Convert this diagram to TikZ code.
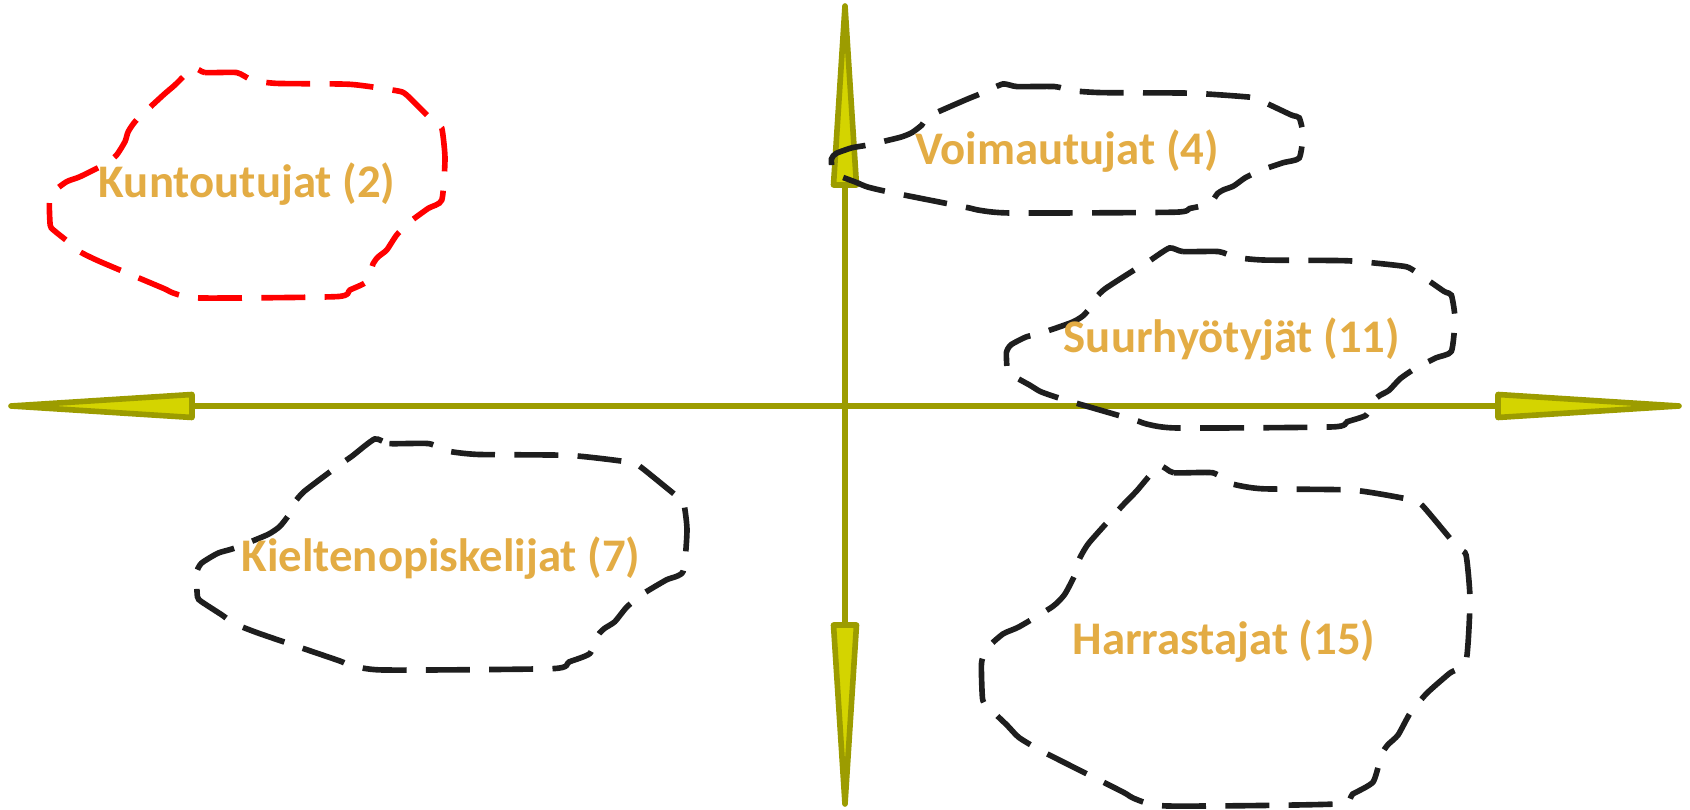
\documentclass[tikz,border=0pt]{standalone}
\usepackage{fontspec}
\setmainfont{Carlito}
\usepackage{xcolor}
\usepackage{tikz}
\usetikzlibrary{calc}
\definecolor{axisline}{HTML}{9C9C00}
\definecolor{axisfill}{HTML}{D4D400}
\definecolor{labelgold}{HTML}{E3AC44}
\definecolor{grpblack}{HTML}{1E1E1E}

\begin{document}
\begin{tikzpicture}[x=0.01cm,y=-0.01cm,
	axis/.style={draw=axisline,line width=1.6pt},
	axhead/.style={draw=axisline,fill=axisfill,line width=1.6pt,line join=round},
	grp/.style={line width=1.6pt,dash pattern=on 12.5pt off 5.5pt},
	lbl/.style={anchor=base,text=labelgold,font=\bfseries\fontsize{13.3}{16}\selectfont}]
	\useasboundingbox (0,0) rectangle (1690,810);
	
	% axes
	\coordinate (O) at (845,406);
	\coordinate (W) at (11,406);
	\coordinate (E) at (1679,406);
	\coordinate (N) at (845,6);
	\coordinate (S) at (845,804);
	\draw[axis] (W)--(E);
	\draw[axis] (N)--(S);
	\draw[axhead] (W)--($(W)+(181,-11.5)$)--($(W)+(181,11.5)$)--cycle;
	\draw[axhead] (E)--($(E)+(-181,-11.5)$)--($(E)+(-181,11.5)$)--cycle;
	\draw[axhead] (N)--($(N)+(-11.5,179)$)--($(N)+(11.5,179)$)--cycle;
	\draw[axhead] (S)--($(S)+(-11.5,-179)$)--($(S)+(11.5,-179)$)--cycle;
	
	% groups
	\foreach \x/\y/\w/\h/\c in {49/68/396/230/red,831/84/472/129/grpblack,
		1006/248/449/180/grpblack,196/439/491/231/grpblack,981/466/489/340/grpblack}
		\draw[grp,\c,shift={(\x,\y)},xscale=\w,yscale=\h]
			plot[smooth cycle,tension=0.35] coordinates {(0.364,0) (0.394,0.02)
			(0.474,0.02) (0.512,0.052) (0.575,0.067) (0.76,0.071) (0.878,0.099)
			(0.903,0.117) (0.975,0.24) (0.992,0.262) (1,0.393) (0.992,0.574)
			(0.958,0.61) (0.912,0.668) (0.878,0.726) (0.853,0.791) (0.832,0.82)
			(0.819,0.849) (0.802,0.929) (0.76,0.965) (0.727,0.994) (0.381,1)
			(0.313,0.978) (0.289,0.958) (0.129,0.842) (0.078,0.799) (0.053,0.762)
			(0.011,0.704) (0.003,0.683) (0.001,0.581) (0.011,0.538) (0.045,0.494)
			(0.078,0.473) (0.146,0.414) (0.171,0.378) (0.192,0.32) (0.2,0.277)
			(0.221,0.226) (0.289,0.117) (0.318,0.074)};
	
	\node[lbl] (kunt) at (247,198) {Kuntoutujat (2)};
	\node[lbl] (voim) at (1067,165) {Voimautujat (4)};
	\node[lbl] (suur) at (1232,353) {Suurhyötyjät (11)};
	\node[lbl] (kiel) at (441,572) {Kieltenopiskelijat (7)};
	\node[lbl] (harr) at (1224,655) {Harrastajat (15)};
\end{tikzpicture}
\end{document}
